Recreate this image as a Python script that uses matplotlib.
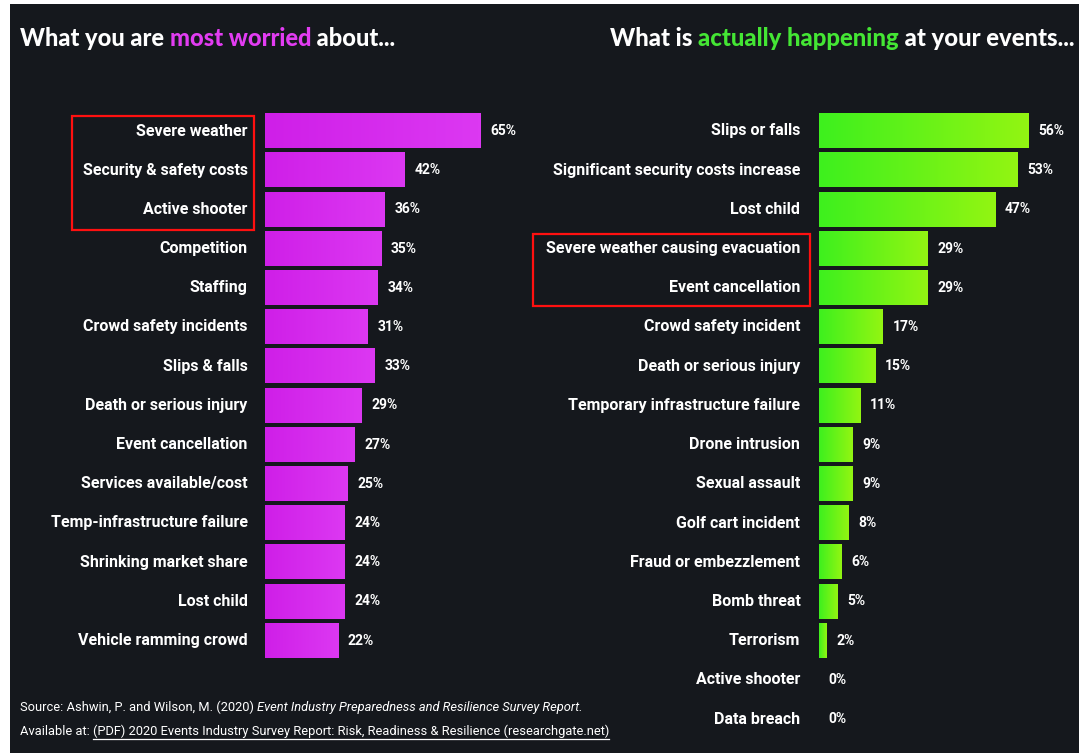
import matplotlib
matplotlib.use("Agg")
import numpy as np
import matplotlib.pyplot as plt
from matplotlib.patches import Rectangle
from matplotlib.colors import LinearSegmentedColormap

# data
worry_labels = ["Severe weather", "Security & safety costs", "Active shooter", "Competition",
                "Staffing", "Crowd safety incidents", "Slips & falls", "Death or serious injury",
                "Event cancellation", "Services available/cost", "Temp-infrastructure failure",
                "Shrinking market share", "Lost child", "Vehicle ramming crowd"]
worry_values = [65, 42, 36, 35, 34, 31, 33, 29, 27, 25, 24, 24, 24, 22]

actual_labels = ["Slips or falls", "Significant security costs increase", "Lost child",
                 "Severe weather causing evacuation", "Event cancellation", "Crowd safety incident",
                 "Death or serious injury", "Temporary infrastructure failure", "Drone intrusion",
                 "Sexual assault", "Golf cart incident", "Fraud or embezzlement", "Bomb threat",
                 "Terrorism", "Active shooter", "Data breach"]
actual_values = [56, 53, 47, 29, 29, 17, 15, 11, 9, 9, 8, 6, 5, 2, 0, 0]

W, H = 1079, 756
BG = "#15181d"
FONT = "Roboto"

fig = plt.figure(figsize=(W / 100, H / 100), dpi=100, facecolor="white")
fig.patches.append(Rectangle((10 / W, 3 / H), 1 - 10 / W, 1 - 7 / H, transform=fig.transFigure,
                             facecolor=BG, edgecolor="none", zorder=-10))

# vertical geometry shared by both panels (row 0 centre at y=131 px, 39.2 px per row)
row_px = 39.2
top_px = 131 - row_px / 2
bot_px = top_px + 16 * row_px
ax_b = 1 - bot_px / H
ax_h = (bot_px - top_px) / H
grad = np.linspace(0, 1, 64).reshape(1, -1)


def panel(left_px, px_per_pct, xmax, labels, values, c0, c1, label_pad):
    ax = fig.add_axes([left_px / W, ax_b, px_per_pct * xmax / W, ax_h])
    ax.axis("off")
    cmap = LinearSegmentedColormap.from_list("g", [c0, c1])
    ys = list(range(len(values)))
    bars = ax.barh(ys, values, height=0.88, color=c0, edgecolor="none")
    # each bar gets its own left-to-right shading
    for b in bars:
        if b.get_width() > 0:
            ax.imshow(grad, cmap=cmap, aspect="auto", interpolation="bilinear",
                      extent=[b.get_x(), b.get_x() + b.get_width(),
                              b.get_y() + b.get_height(), b.get_y()], zorder=2)
    ax.set_xlim(0, xmax)
    ax.set_ylim(15.5, -0.5)
    for y, v, lab in zip(ys, values, labels):
        ax.annotate(f"{v}%", (v, y), xytext=(7, 0), textcoords="offset points",
                    ha="left", va="center", color="white", fontsize=10,
                    fontweight="bold", family=FONT)
        ax.annotate(lab, (0, y), xytext=(-label_pad, 0), textcoords="offset points",
                    ha="right", va="center", color="white", fontsize=11.5,
                    fontweight="bold", family=FONT, annotation_clip=False)
    return ax


panel(265, 3.32, 100, worry_labels, worry_values, "#cf1fe8", "#dc38f2", 12.5)
panel(819, 3.75, 60, actual_labels, actual_values, "#3ef01e", "#92f512", 13.5)

# red highlight boxes
for x0, y0, x1, y1 in [(72, 116, 254, 230), (533, 234, 810, 306)]:
    fig.patches.append(Rectangle((x0 / W, 1 - y1 / H), (x1 - x0) / W, (y1 - y0) / H,
                                 transform=fig.transFigure, fill=False,
                                 edgecolor="#ff1010", linewidth=1.6))

# multi-coloured titles
renderer = fig.canvas.get_renderer()


def title(x_px, parts, size):
    x = x_px
    for txt, col in parts:
        t = fig.text(x / W, 1 - 46 / H, txt, color=col, fontsize=size, fontweight="black",
                     family="Lato", ha="left", va="baseline")
        x += t.get_window_extent(renderer).width


title(20, [("What you are ", "white"), ("most worried", "#e23cf2"), (" about...", "white")], 17)
title(610, [("What is ", "white"), ("actually happening", "#44e634"), (" at your events...", "white")], 17.2)

# source note
SRC = 9.3
fig.text(20 / W, 1 - 711 / H, "Source: Ashwin, P. and Wilson, M. (2020) ", color="white",
         fontsize=SRC, family=FONT, va="baseline")
w = fig.texts[-1].get_window_extent(renderer).width
fig.text((20 + w) / W, 1 - 711 / H, "Event Industry Preparedness and Resilience Survey Report.",
         color="white", fontsize=SRC, family=FONT, style="italic", va="baseline")
fig.text(20 / W, 1 - 735 / H, "Available at: ", color="white", fontsize=SRC, family=FONT,
         va="baseline")
w = fig.texts[-1].get_window_extent(renderer).width
link = fig.text((20 + w) / W, 1 - 735 / H,
                "(PDF) 2020 Events Industry Survey Report: Risk, Readiness & Resilience (researchgate.net)",
                color="white", fontsize=SRC, family=FONT, va="baseline")
bb = link.get_window_extent(renderer)
fig.add_artist(plt.Line2D([bb.x0 / W, bb.x1 / W], [(bb.y0 - 1) / H, (bb.y0 - 1) / H],
                          color="white", linewidth=0.9, transform=fig.transFigure))

fig.savefig("out.png", dpi=100, facecolor="white")
